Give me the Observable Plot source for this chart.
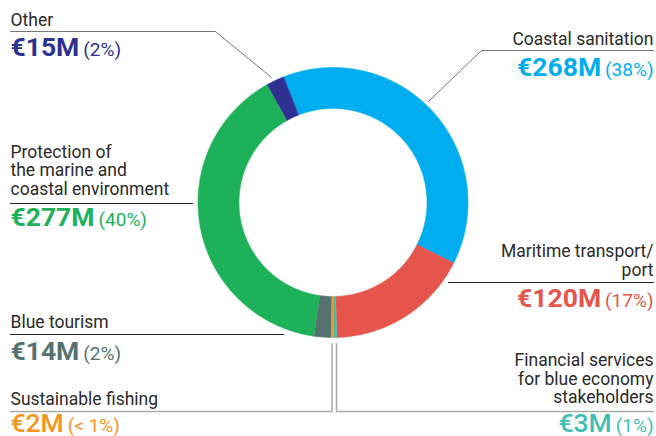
<!DOCTYPE html>
<html><head><meta charset="utf-8">
<script src="https://cdn.jsdelivr.net/npm/d3@7"></script>
<script src="https://cdn.jsdelivr.net/npm/@observablehq/plot@0.6"></script>
<style>
html,body{margin:0;padding:0;background:#fff;}
</style></head><body><div id="chart"></div>
<script>
// ---- data ----
const categories = [
  "Coastal sanitation",
  "Maritime transport/\nport",
  "Financial services\nfor blue economy\nstakeholders",
  "Sustainable fishing",
  "Blue tourism",
  "Protection of\nthe marine and\ncoastal environment",
  "Other"
];
const values = [268, 120, 3, 2, 14, 277, 15];
const amountLabels = ["€268M", "€120M", "€3M", "€2M", "€14M", "€277M", "€15M"];
const shareLabels = ["(38%)", "(17%)", "(1%)", "(< 1%)", "(2%)", "(40%)", "(2%)"];
const colors = ["#00aeef", "#e5554b", "#3dbfb1", "#f7941d", "#557170", "#1db15a", "#2e3192"];

// ---- layout (pixels) ----
const W = 656, H = 436;
const cx = 332.5, cy = 202, rOuter = 135, rInner = 94;
const startAngle = -21.5 * Math.PI / 180;
const leftX = 10, rightX = 653;
const labelSize = 17.5, amountSize = 26.5, shareSize = 19, gap = 4;
const layout = [
  {side: "right", labelY: 44,  valueY: 75,  leader: [[428,101],[481,50],[rightX,50]], lc: "#777", lw: 1, weight: 700},
  {side: "right", labelY: 275, valueY: 306, leader: [[448,282],[rightX,282]], lc: "#222", lw: 1.2, weight: 700},
  {side: "right", labelY: 402.5, valueY: 431, leader: [[336,343],[336,411],[rightX,411]], lc: "#aaa", lw: 1.5, weight: 500},
  {side: "left",  labelY: 404, valueY: 431, leader: [[331.5,343],[331.5,411],[leftX,411]], lc: "#aaa", lw: 1.5, weight: 500},
  {side: "left",  labelY: 327, valueY: 359, leader: [[leftX,334],[283,334]], lc: "#222", lw: 1.2, weight: 700},
  {side: "left",  labelY: 194, valueY: 225, leader: [[leftX,203],[192,203]], lc: "#222", lw: 1.2, weight: 700},
  {side: "left",  labelY: 25,  valueY: 55,  leader: [[leftX,31],[215,31],[271,77]], lc: "#777", lw: 1, weight: 700}
];

// ---- text measuring ----
const ctx = document.createElement("canvas").getContext("2d");
function textWidth(s, size, weight) {
  ctx.font = `${weight} ${size}px Roboto`;
  return ctx.measureText(s).width;
}

// ---- ring geometry from data ----
const arcs = d3.pie().sort(null).startAngle(startAngle).endAngle(startAngle + 2 * Math.PI)(values);
const ring = [];
arcs.forEach((a, i) => {
  const n = Math.max(2, Math.ceil((a.endAngle - a.startAngle) / 0.005));
  for (let k = 0; k <= n; k++) {
    const t = a.startAngle + (a.endAngle - a.startAngle) * k / n;
    ring.push({slice: i, color: colors[i], x: cx + rOuter * Math.sin(t), y: cy - rOuter * Math.cos(t)});
  }
  for (let k = n; k >= 0; k--) {
    const t = a.startAngle + (a.endAngle - a.startAngle) * k / n;
    ring.push({slice: i, color: colors[i], x: cx + rInner * Math.sin(t), y: cy - rInner * Math.cos(t)});
  }
});

const marks = [
  Plot.line(ring, {x: "x", y: "y", z: "slice", fill: "color", stroke: "color", strokeWidth: 0.6, curve: "linear"})
];

categories.forEach((cat, i) => {
  const L = layout[i];
  const col = colors[i];
  marks.push(Plot.line(L.leader, {stroke: L.lc, strokeWidth: L.lw}));
  const lx = L.side === "left" ? leftX : rightX;
  const anchor = L.side === "left" ? "start" : "end";
  marks.push(Plot.text([cat], {x: () => lx, y: () => L.labelY, text: d => d, textAnchor: anchor, lineAnchor: "bottom",
    fontSize: labelSize, lineHeight: 1.05, fill: "#2a2a2a", fontFamily: "Roboto"}));
  const wAmt = textWidth(amountLabels[i], amountSize, L.weight);
  const wShare = textWidth(shareLabels[i], shareSize, 400);
  let ax, sx;
  if (L.side === "left") { ax = leftX; sx = leftX + wAmt + gap; }
  else { sx = rightX - wShare; ax = sx - gap - wAmt; }
  marks.push(Plot.text([amountLabels[i]], {x: () => ax, y: () => L.valueY, text: d => d, textAnchor: "start", lineAnchor: "bottom",
    fontSize: amountSize, fontWeight: L.weight, fill: col, fontFamily: "Roboto"}));
  marks.push(Plot.text([shareLabels[i]], {x: () => sx, y: () => L.valueY, text: d => d, textAnchor: "start", lineAnchor: "bottom",
    fontSize: shareSize, fontWeight: 400, fill: col, fontFamily: "Roboto"}));
});

const chart = Plot.plot({
  width: W, height: H,
  margin: 0,
  x: {domain: [0, W], range: [0, W], axis: null},
  y: {domain: [0, H], range: [0, H], axis: null},
  color: {type: "identity"},
  style: {fontFamily: "Roboto", background: "#fff", overflow: "visible"},
  marks
});
document.getElementById("chart").appendChild(chart);
</script>
</body></html>
